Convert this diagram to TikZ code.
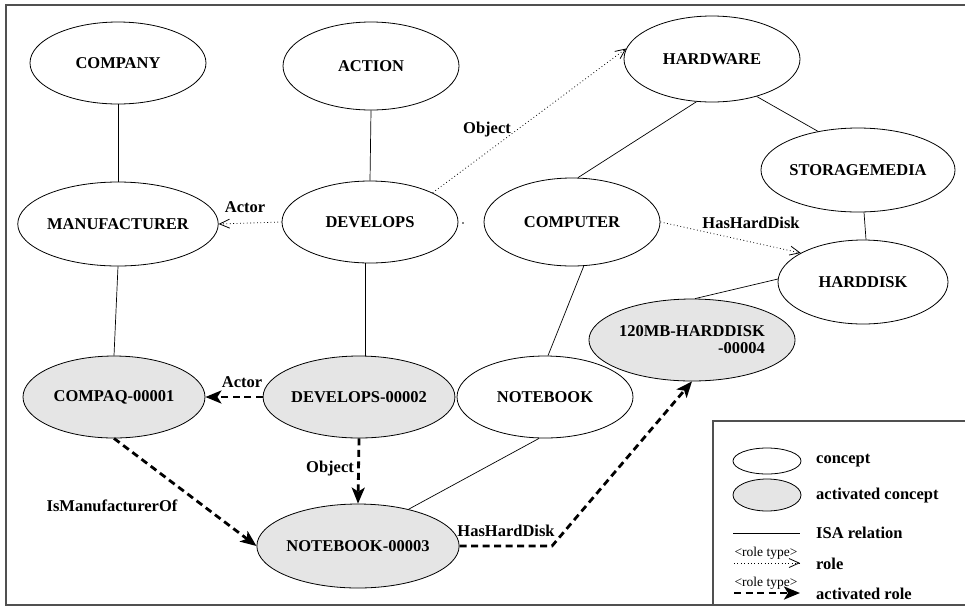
\documentclass[tikz,border=0pt]{standalone}
\usepackage{fontspec}
\setmainfont{Liberation Serif}
\usetikzlibrary{shapes.geometric,arrows.meta}
\definecolor{actfill}{RGB}{229,229,229}
\definecolor{framegray}{RGB}{80,80,80}
\begin{document}
\begin{tikzpicture}[x=1pt,y=-1pt,
  concept/.style={ellipse,draw,line width=0.8pt,minimum width=176pt,minimum height=82pt,
    inner sep=0pt,font=\bfseries\fontsize{16.5}{17}\selectfont,align=center},
  activated/.style={concept,fill=actfill},
  isa/.style={line width=0.7pt},
  role/.style={line width=0.8pt,dash pattern=on 0.8pt off 2.6pt,
    -{Straight Barb[length=10pt,width=9pt,line width=0.8pt]}},
  actrole/.style={line width=2.8pt,dash pattern=on 7pt off 4.5pt,
    -{Stealth[length=16pt,width=13pt,inset=4pt]}},
  lbl/.style={font=\bfseries\fontsize{16.5}{16.5}\selectfont,inner sep=0pt},
  smalllbl/.style={font=\fontsize{13.5}{13.5}\selectfont,inner sep=0pt},
]
\useasboundingbox (0,0) rectangle (965,606);

% frame and legend box
\draw[framegray,line width=1.5pt] (965,5) -- (6,5) -- (6,605) -- (965,605);
\draw[framegray,line width=1.2pt] (713,605) -- (713,421) -- (965,421);

% concepts
\node[concept] (company) at (118,63) {COMPANY};
\node[concept,minimum height=88pt] (action) at (371,66) {ACTION};
\node[concept,minimum height=86pt] (hardware) at (712,59) {HARDWARE};
\node[concept,minimum height=84pt] (manufacturer) at (118,224) {MANUFACTURER};
\node[concept] (develops) at (370,222) {DEVELOPS};
\node[concept,minimum height=88pt] (computer) at (572,222) {COMPUTER};
\node[concept,minimum height=84pt] (storage) at (858,170) {STORAGEMEDIA};
\node[concept,minimum width=170pt,minimum height=84pt] (harddisk) at (863,282) {HARDDISK};
\node[concept] (notebook) at (545,397) {NOTEBOOK};

% activated concepts
\node[activated,align=right] (hd4) at (692,340) {120MB-HARDDISK\\-00004};
\node[activated,minimum width=182pt] (compaq) at (114,397) {COMPAQ-00001};
\node[activated] (dev2) at (359,397) {DEVELOPS-00002};
\node[activated,minimum width=178pt,minimum height=84pt] (n3) at (358,546) {NOTEBOOK-00003};

% ISA relations
\draw[isa] (company.south) -- (manufacturer.north);
\draw[isa] (action.south) -- (develops.north);
\draw[isa] (manufacturer.south) -- (compaq.north);
\draw[isa] ([xshift=-5pt]develops.south) -- ([xshift=6pt]dev2.north);
\draw[isa] ([xshift=6pt]computer.north) -- (hardware.250);
\draw[isa] (hardware.320) -- (storage.136);
\draw[isa] ([xshift=6pt]storage.south) -- ([xshift=3pt]harddisk.north);
\draw[isa] (harddisk.178) -- ([xshift=3pt]hd4.north);
\draw[isa] (computer.285) -- ([xshift=3pt]notebook.north);
\draw[isa] ([xshift=-6pt]notebook.south) -- (n3.36);

% roles
\draw[role] (develops.west) -- (manufacturer.east);
\draw[role] (develops.25) -- (hardware.173);
\draw[role] (computer.east) -- (harddisk.155);
\fill (463,223) circle (0.8pt);

% activated roles
\draw[actrole] (dev2.west) -- (compaq.east);
\draw[actrole] (dev2.south) -- (n3.north);
\draw[actrole] (compaq.south) -- (n3.west);
\coordinate (bend) at (552,546);
\draw[actrole] (n3.east) -- (bend) -- (hd4.south);

% role labels
\node[lbl] (l1) at (245,207) {Actor};
\node[lbl] (l2) at (487,130) {Object};
\node[lbl] (l3) at (751,223) {HasHardDisk};
\node[lbl] (l4) at (242,382) {Actor};
\node[lbl] (l5) at (330,469) {Object};
\node[lbl] (l6) at (112,506) {IsManufacturerOf};
\node[lbl] (l7) at (506,531) {HasHardDisk};

% legend
\node[concept,minimum width=68pt,minimum height=26pt] (lgc) at (767,461) {};
\node[activated,minimum width=68pt,minimum height=32pt] (lga) at (767,495) {};
\node[lbl,anchor=west] (lgct) at (816,461) {concept};
\node[lbl,anchor=west] (lgat) at (816,496) {activated concept};
\coordinate (lgi1) at (733,533);
\coordinate (lgi2) at (800,533);
\draw[isa] (lgi1) -- (lgi2);
\node[lbl,anchor=west] (lgit) at (816,533) {ISA relation};
\node[smalllbl] (lgrt1) at (766,553) {\textless role type\textgreater};
\coordinate (lgr1) at (734,563);
\coordinate (lgr2) at (800,563);
\draw[role] (lgr1) -- (lgr2);
\node[lbl,anchor=west] (lgrt) at (816,564) {role};
\node[smalllbl] (lgrt2) at (766,583) {\textless role type\textgreater};
\coordinate (lga1) at (734,593);
\coordinate (lga2) at (800,593);
\draw[actrole] (lga1) -- (lga2);
\node[lbl,anchor=west] (lgat2) at (816,594) {activated role};
\end{tikzpicture}
\end{document}
